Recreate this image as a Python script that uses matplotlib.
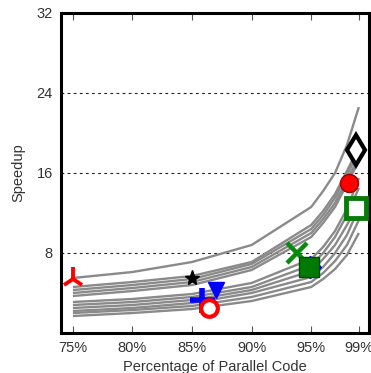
import matplotlib
matplotlib.use("Agg")
import matplotlib.pyplot as plt

plt.rcParams['font.family'] = ['Liberation Sans', 'DejaVu Sans']

# Data
parallel_pct = [75, 80, 85, 90, 95, 96, 97, 98, 99]
curves = [
    [5.5, 6.1, 7.1, 8.8, 12.6, 14.2, 16.0, 18.8, 22.6],
    [4.6, 5.1, 5.7, 7.1, 10.8, 12.2, 13.9, 16.2, 18.6],
    [4.3, 4.8, 5.4, 6.9, 10.4, 11.8, 13.5, 15.8, 18.2],
    [4.0, 4.5, 5.1, 6.6, 10.0, 11.4, 13.0, 15.3, 17.6],
    [3.7, 4.2, 4.8, 6.3, 9.6, 11.0, 12.6, 14.9, 17.2],
    [3.1, 3.4, 3.9, 5.0, 7.4, 8.6, 10.2, 12.4, 15.5],
    [2.8, 3.1, 3.6, 4.6, 6.8, 8.0, 9.6, 11.8, 14.5],
    [2.5, 2.8, 3.3, 4.3, 6.2, 7.4, 8.8, 10.8, 13.0],
    [2.2, 2.5, 3.0, 4.0, 5.6, 6.6, 8.0, 9.8, 12.5],
    [2.0, 2.3, 2.7, 3.6, 5.1, 6.0, 7.2, 8.8, 11.3],
    [1.7, 2.0, 2.4, 3.2, 4.6, 5.4, 6.4, 7.8, 10.0],
]

# Individual points: (x %, speedup)
pts_x = [75.0, 85.0, 85.8, 86.4, 87.0, 93.8, 94.9, 94.8, 98.2, 98.8, 98.8]
pts_y = [5.4, 5.5, 3.3, 2.5, 4.3, 8.0, 6.6, 6.6, 15.0, 12.5, 18.3]
pts_marker = ['2', '*', '+', 'o', 'v', 'x', 'D', 's', 'o', 's', 'd']
pts_face = ['red', 'black', 'blue', 'white', 'blue', 'green', 'blue', '#007a00', 'red', 'white', 'white']
pts_edge = ['red', 'black', 'blue', 'red', 'blue', '#0a8a0a', 'blue', '#004d00', '#990000', '#0a7a0a', 'black']
pts_size = [17, 11, 18, 12, 12, 14, 11, 14, 13, 14, 15]
pts_mew = [2.8, 1, 4, 3, 1, 3.2, 1, 1, 1, 3.5, 3]

xticks = [75, 80, 85, 90, 95, 99]
xticklabels = ['75%', '80%', '85%', '90%', '95%', '99%']
yticks = [8, 16, 24, 32]

fig = plt.figure(figsize=(3.71, 3.73), dpi=100)
ax = fig.add_axes([61/371, 40/373, 308/371, 320/373])

for c in curves:
    ax.plot(parallel_pct, c, color='#8a8a8a', lw=1.7, zorder=2, solid_capstyle='butt')

for x, y, m, fc, ec, s, mw in zip(pts_x, pts_y, pts_marker, pts_face, pts_edge, pts_size, pts_mew):
    ax.plot([x], [y], marker=m, ms=s, mfc=fc, mec=ec, mew=mw, ls='none',
            zorder=5, clip_on=False)

ax.set_xlim(74, 99.85)
ax.set_ylim(0, 32)
ax.set_xticks(xticks)
ax.set_xticklabels(xticklabels)
ax.set_yticks(yticks)
ax.set_yticklabels([str(v) for v in yticks])
for v in [8, 16, 24]:
    ax.axhline(v, color='#222222', lw=0.8, ls=(0, (2.5, 3)), zorder=1)

ax.tick_params(axis='x', direction='in', top=True, length=5, width=0.8, color='#555555',
               labelsize=10.5, labelcolor='#333333', pad=6)
ax.tick_params(axis='y', length=0, labelsize=10.5, labelcolor='#333333', pad=6)
for s in ax.spines.values():
    s.set_linewidth(2.2)
    s.set_color('black')

ax.set_xlabel('Percentage of Parallel Code', fontsize=10.5, color='#333333', labelpad=3)
ax.set_ylabel('Speedup', fontsize=10.5, color='#333333', labelpad=8)

fig.savefig('out.png', dpi=100)
